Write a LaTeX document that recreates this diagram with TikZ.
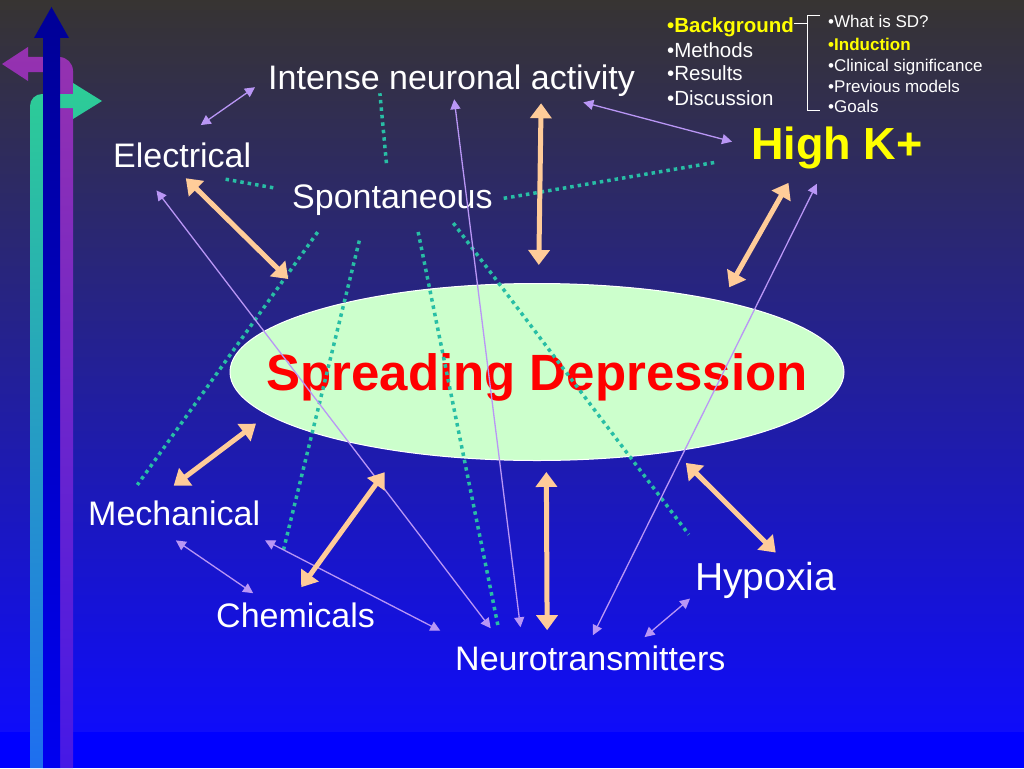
\documentclass[tikz,border=0pt]{standalone}
\usepackage{fontspec}
\setmainfont{Liberation Sans}
\usetikzlibrary{shapes.geometric, arrows.meta}

\definecolor{bgtop}{RGB}{55,52,50}
\definecolor{bgmid}{RGB}{40,34,165}
\definecolor{bgbot}{RGB}{15,12,250}
\definecolor{peach}{RGB}{255,204,153}
\definecolor{lav}{RGB}{185,150,245}
\definecolor{dotteal}{RGB}{40,190,165}
\definecolor{sdgreen}{RGB}{204,255,204}
\definecolor{kyellow}{RGB}{255,255,0}

\begin{document}
\begin{tikzpicture}[x=1pt, y=-1pt,
        word/.style={text=white, font=\fontsize{34}{40}\selectfont, inner sep=3pt, anchor=base west},
        menu/.style={text=white, font=\fontsize{20.5}{24}\selectfont, inner sep=0pt, anchor=base west},
        submenu/.style={text=white, font=\fontsize{17}{20}\selectfont, inner sep=0pt, anchor=base west},
        big/.style={draw=peach, line width=5pt, {Triangle[length=15pt,width=21pt]}-{Triangle[length=15pt,width=21pt]}},
        thin/.style={draw=lav, line width=1.3pt, {Triangle[length=10pt,width=10pt]}-{Triangle[length=10pt,width=10pt]}},
        dots/.style={draw=dotteal, line width=3.5pt, dash pattern=on 3.5pt off 4pt},
        bracket/.style={draw=white, line width=1pt}]

        % background
        \useasboundingbox (0,0) rectangle (1024,768);
        \shade[top color=bgtop, middle color=bgmid, bottom color=bgbot] (0,0) rectangle (1024,732);
        \fill[blue] (0,732) rectangle (1024,768);

        % arrows on the left edge
        \shade[top color={rgb,255:red,150;green,50;blue,175}, bottom color={rgb,255:red,70;green,25;blue,230}]
            (73,768) -- (73,71) arc[start angle=0, end angle=-90, radius=14] -- (28,57) -- (28,47) -- (2,64) -- (28,81) -- (28,72) -- (60,72) -- (60,768) -- cycle;
        \shade[top color={rgb,255:red,45;green,205;blue,150}, bottom color={rgb,255:red,30;green,110;blue,240}]
            (30,768) -- (30,106) arc[start angle=180, end angle=270, radius=12] -- (73,94) -- (73,83) -- (102,101) -- (73,119) -- (73,108) -- (43,108) -- (43,768) -- cycle;
        \shade[top color={rgb,255:red,0;green,0;blue,150}, bottom color={rgb,255:red,0;green,0;blue,240}]
            (43,768) -- (43,38) -- (34,38) -- (51.5,7) -- (69,38) -- (60,38) -- (60,768) -- cycle;

        % outline menu
        \node[menu, text=kyellow, font=\fontsize{20.5}{24}\selectfont\bfseries] (bg) at (667,33) {\textbullet Background};
        \node[menu] (meth) at (667,57) {\textbullet Methods};
        \node[menu] (res) at (667,81) {\textbullet Results};
        \node[menu] (disc) at (667,105) {\textbullet Discussion};
        \node[submenu] (what) at (828,28) {\textbullet What is SD?};
        \node[submenu, text=kyellow, font=\fontsize{17}{20}\selectfont\bfseries] (induct) at (828,50) {\textbullet Induction};
        \node[submenu] (clin) at (828,71) {\textbullet Clinical significance};
        \node[submenu] (prev) at (828,92) {\textbullet Previous models};
        \node[submenu] (goals) at (828,112) {\textbullet Goals};
        \coordinate (brtop) at (807,16);
        \coordinate (brbot) at (807,110);
        \draw[bracket] ([yshift=4.5pt]bg.east) -- ([yshift=4.5pt]bg.east -| brtop);
        \draw[bracket] ([xshift=13pt]brtop) -- (brtop) -- (brbot) -- ([xshift=13pt]brbot);

        % central ellipse
        \node[ellipse, draw=white, line width=1pt, fill=sdgreen, minimum width=614pt, minimum height=177pt,
              inner sep=0pt, outer sep=0pt, text=red, text depth=0pt,
              font=\fontsize{51}{58}\selectfont\bfseries] (sd) at (537,372) {\makebox[0pt]{Spreading Depression}};

        % inducing factors
        \node[word] (intense) at (265,89) {Intense neuronal activity};
        \node[word] (elec) at (110,167) {Electrical};
        \node[word] (spont) at (289,208) {Spontaneous};
        \node[word] (mech) at (85,525) {Mechanical};
        \node[word] (chem) at (213,627) {Chemicals};
        \node[word] (neuro) at (452,670) {Neurotransmitters};
        \node[word, font=\fontsize{39}{44}\selectfont] (hyp) at (692,590) {Hypoxia};
        \node[word, text=kyellow, font=\fontsize{45}{50}\selectfont\bfseries] (highk) at (748,159) {High K+};

        % dotted links from Spontaneous
        \draw[dots, shorten <=18pt, shorten >=-6pt] (spont.103) -- (intense.-165.7);
        \draw[dots, shorten <=16pt, shorten >=49pt] (spont.175.6) -- (elec.-107);
        \draw[dots, shorten <=8pt, shorten >=31pt] (spont.0.9) -- (highk.-174.1);
        \draw[dots, shorten <=17pt, shorten >=15pt] (spont.-164.2) -- (mech.161);
        \draw[dots, shorten <=23pt, shorten >=50pt] (spont.-146.4) -- (chem.147.7);
        \draw[dots, shorten <=14pt, shorten >=15pt] (spont.-39.2) -- (neuro.170.6);
        \draw[dots, shorten <=6pt, shorten >=30pt] (spont.-18.4) -- (hyp.160.6);

        % thin links
        \draw[thin, shorten <=24.6pt, shorten >=12.2pt] (elec.96.3) -- (intense.180);
        \draw[thin, shorten <=11.9pt, shorten >=16.5pt] (intense.-9.5) -- (highk.179.5);
        \draw[thin, shorten <=25pt, shorten >=17.5pt] (elec.-159.5) -- (neuro.170.8);
        \draw[thin, shorten <=0pt, shorten >=15pt] (intense.-82.2) -- (neuro.167.1);
        \draw[thin, shorten <=13.4pt, shorten >=7.8pt] (highk.-120.4) -- (neuro.93.7);
        \draw[thin, shorten <=21pt, shorten >=10.6pt] (mech.-135.9) -- (chem.155.4);
        \draw[thin, shorten <=25.7pt, shorten >=25pt] (mech.-13.7) -- (neuro.173.6);
        \draw[thin, shorten <=2.6pt, shorten >=7.8pt] (hyp.-167.5) -- (neuro.18.1);

        % thick links to SD
        \draw[big, shorten <=11pt, shorten >=43.6pt] (elec.-105) -- (sd.164.8);
        \draw[big, shorten <=4pt, shorten >=18.5pt] (intense.-12.25) -- (sd.89.8);
        \draw[big, shorten <=12.8pt, shorten >=16pt] (highk.-150) -- (sd.21.4);
        \draw[big, shorten <=19pt, shorten >=15pt] (mech.135) -- (sd.-171.6);
        \draw[big, shorten <=14.8pt, shorten >=26pt] (chem.101.7) -- (sd.-150.4);
        \draw[big, shorten <=12pt, shorten >=11.5pt] (neuro.160.4) -- (sd.-84.2);
        \draw[big, shorten <=8.5pt, shorten >=16.6pt] (hyp.53.6) -- (sd.-30.1);

    \end{tikzpicture}
\end{document}
